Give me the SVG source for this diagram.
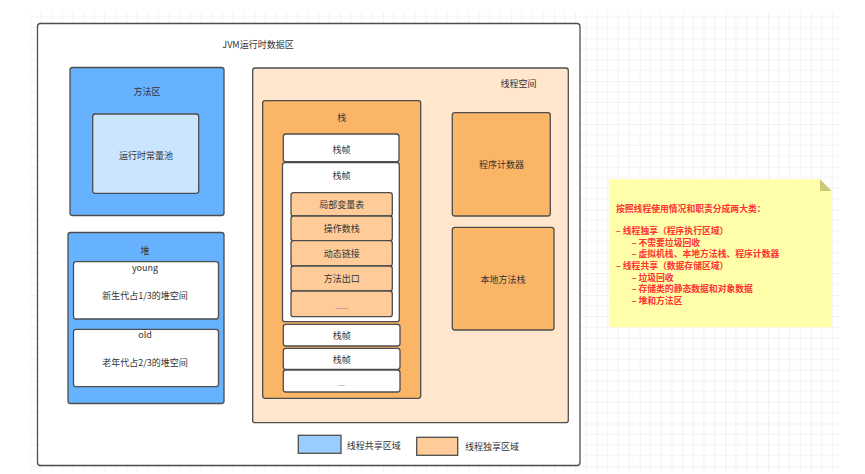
<svg xmlns="http://www.w3.org/2000/svg" width="865" height="474" viewBox="0 0 865 474">
<style>
text{font-family:"Noto Sans CJK SC","Liberation Sans",sans-serif;font-size:9px;fill:#333;text-anchor:middle;dominant-baseline:central}
.b{stroke:#4d4d4d;stroke-width:1.3}
.blue{fill:#66b2ff}
.lblue{fill:#cce5ff}
.white{fill:#fff}
.peach{fill:#ffe6cc}
.orange{fill:#fbb567}
.lorange{fill:#ffcc99}
.note{font-size:8.8px;fill:#ff3333;font-weight:bold;text-anchor:start}
</style>
<defs>
<pattern id="grid" patternUnits="userSpaceOnUse" x="40.5" y="38.3" width="42.8" height="42.8">
<path d="M10.7 0V42.8M21.4 0V42.8M32.1 0V42.8M0 10.7H42.8M0 21.4H42.8M0 32.1H42.8" stroke="#f3f3f3" stroke-width="1" fill="none"/>
<path d="M0 0V42.8M0 0H42.8" stroke="#e6e6e6" stroke-width="1" fill="none"/>
</pattern>
</defs>
<rect x="0" y="0" width="865" height="474" fill="#fff"/>
<rect x="30" y="12" width="810" height="460" fill="url(#grid)"/>

<g id="jvm">
<rect x="37.5" y="23.5" width="542.5" height="442" rx="3" class="b white"/>
<text x="258" y="44.5">JVM运行时数据区</text>
</g>

<g id="method-area">
<rect x="70" y="67.5" width="154" height="148" rx="2.5" class="b blue"/>
<text x="147" y="91">方法区</text>
</g>
<g id="constant-pool">
<rect x="92.7" y="114" width="106" height="79.3" rx="2.5" class="b lblue"/>
<text x="146" y="155">运行时常量池</text>
</g>

<g id="heap">
<rect x="68" y="232.5" width="156" height="171" rx="2.5" class="b blue"/>
<text x="145" y="250">堆</text>
</g>
<g id="young">
<rect x="73.5" y="261.7" width="145" height="57.3" rx="2.5" class="b white"/>
<text x="145" y="267.5">young</text>
<text x="145" y="295.5">新生代占1/3的堆空间</text>
</g>
<g id="old">
<rect x="73.5" y="329.3" width="145" height="57.4" rx="2.5" class="b white"/>
<text x="145" y="334.5">old</text>
<text x="145" y="362.3">老年代占2/3的堆空间</text>
</g>

<g id="thread-space">
<rect x="252.7" y="68" width="315.6" height="354.7" rx="2.5" class="b peach"/>
<text x="518.5" y="83.3">线程空间</text>
</g>

<g id="stack">
<rect x="262.7" y="100.7" width="158" height="297.6" rx="2.5" class="b orange"/>
<text x="341.7" y="117.3">栈</text>
</g>
<g id="frame1">
<rect x="283.3" y="134" width="115.7" height="27.7" rx="2.5" class="b white"/>
<text x="341.5" y="149">栈帧</text>
</g>
<g id="frame2">
<rect x="282.5" y="162.7" width="116.8" height="159" rx="2.5" class="b white"/>
<text x="341.5" y="175">栈帧</text>
</g>
<g id="local-vars">
<rect x="291" y="192.7" width="101.3" height="23.3" rx="2.5" class="b lorange"/>
<text x="341.7" y="204.5">局部变量表</text>
</g>
<g id="operand-stack">
<rect x="291" y="216" width="101.3" height="24.7" rx="2.5" class="b lorange"/>
<text x="341.7" y="228.5">操作数栈</text>
</g>
<g id="dynamic-link">
<rect x="291" y="240.7" width="101.3" height="25.3" rx="2.5" class="b lorange"/>
<text x="341.7" y="253.5">动态链接</text>
</g>
<g id="return-addr">
<rect x="291" y="266" width="101.3" height="25" rx="2.5" class="b lorange"/>
<text x="341.7" y="278.5">方法出口</text>
</g>
<g id="more-items">
<rect x="291" y="291" width="101.3" height="25.7" rx="2.5" class="b lorange"/>
<text x="341.7" y="305" style="fill:#777;font-size:8px">......</text>
</g>
<g id="frame3">
<rect x="283.3" y="324.3" width="116.7" height="21.7" rx="2.5" class="b white"/>
<text x="341.7" y="335.5">栈帧</text>
</g>
<g id="frame4">
<rect x="283.3" y="348.3" width="116.7" height="21" rx="2.5" class="b white"/>
<text x="341.7" y="359.5">栈帧</text>
</g>
<g id="frame-more">
<rect x="283.3" y="370" width="116.7" height="22" rx="2.5" class="b white"/>
<text x="341.7" y="382.5" style="fill:#777;font-size:8px">...</text>
</g>

<g id="pc-register">
<rect x="452.3" y="112.7" width="98" height="103.3" rx="2.5" class="b orange"/>
<text x="501.5" y="164.3">程序计数器</text>
</g>
<g id="native-stack">
<rect x="452.3" y="227.3" width="101.7" height="102.7" rx="2.5" class="b orange"/>
<text x="503" y="279.3">本地方法栈</text>
</g>

<g id="legend-shared">
<rect x="298.3" y="435.3" width="42.7" height="18" class="b" fill="#99ccff"/>
<text x="346.7" y="445" style="text-anchor:start">线程共享区域</text>
</g>
<g id="legend-private">
<rect x="416.7" y="437.3" width="41" height="18" class="b lorange"/>
<text x="465" y="446.7" style="text-anchor:start">线程独享区域</text>
</g>

<g id="note">
<polygon points="609,179.3 820,179.3 831.7,191 831.7,327.3 609,327.3" fill="#ffffaa"/>
<polygon points="820,179.3 831.7,191 820,191" fill="#c9c977"/>
<text class="note" x="616" y="208.3">按照线程使用情况和职责分成两大类：</text>
<text class="note" x="616" y="230.7">– 线程独享（程序执行区域）</text>
<text class="note" x="631.7" y="242.3">– 不需要垃圾回收</text>
<text class="note" x="631.7" y="253.9">– 虚拟机栈、本地方法栈、程序计数器</text>
<text class="note" x="616" y="265.5">– 线程共享（数据存储区域）</text>
<text class="note" x="631.7" y="277.1">– 垃圾回收</text>
<text class="note" x="631.7" y="288.7">– 存储类的静态数据和对象数据</text>
<text class="note" x="631.7" y="300.3">– 堆和方法区</text>
</g>
<g id="connectors"></g>
</svg>
